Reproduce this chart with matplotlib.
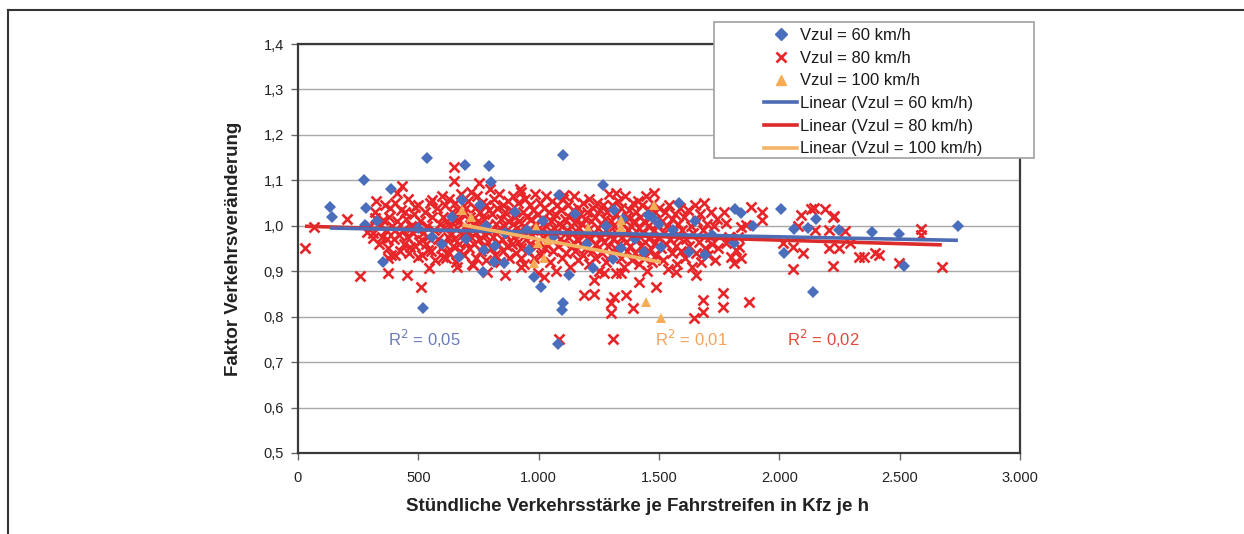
import matplotlib

matplotlib.use("Agg")
import matplotlib.pyplot as plt
from matplotlib.lines import Line2D
from matplotlib.patches import Rectangle
from matplotlib.ticker import FuncFormatter, MultipleLocator

plt.rcParams["font.family"] = ["Liberation Sans", "DejaVu Sans"]

# ---------------- data ----------------
blue_pts = [
    (133, 1.041), (142, 1.019), (275, 1.10), (283, 1.039), (279, 1.002), (329, 1.01),
    (354, 0.92), (388, 1.08), (538, 1.149), (521, 0.819), (558, 0.975), (692, 1.134),
    (792, 1.132), (804, 1.096), (683, 1.057), (758, 1.046), (771, 0.947), (667, 0.932),
    (813, 0.92), (854, 0.918), (767, 0.898), (979, 0.887), (1008, 0.865), (1125, 0.892),
    (1083, 1.068), (958, 0.947), (1100, 1.155), (1100, 0.83), (1096, 0.815), (1080, 0.74),
    (1267, 1.09), (1454, 1.024), (1475, 1.017), (1342, 0.95), (1308, 0.927), (1225, 0.907),
    (1438, 0.942), (1508, 0.953), (1625, 0.942), (1692, 0.936), (1583, 1.05), (1313, 1.035),
    (1817, 1.037), (1842, 1.028), (2063, 0.993), (2121, 0.995), (2154, 1.015), (2246, 0.99),
    (1813, 0.962), (2021, 0.94), (1892, 1.0), (2008, 1.037), (2138, 0.855), (2383, 0.986),
    (2496, 0.982), (2517, 0.912), (2742, 1.0),
    (640, 1.02), (700, 0.97), (780, 1.0), (860, 0.985), (900, 1.03), (950, 0.99),
    (1020, 1.01), (1060, 0.975), (1150, 1.025), (1200, 0.96), (1280, 1.0), (1350, 1.015),
    (1400, 0.97), (1500, 1.005), (1560, 0.99), (1650, 1.01), (1720, 0.98), (500, 0.995),
    (600, 0.96), (820, 0.955),
]

red_sparse = [
    (29, 0.951), (67, 0.998), (204, 1.015), (258, 0.889), (325, 1.055), (375, 0.896),
    (454, 0.892), (512, 0.866), (433, 1.088), (412, 1.072), (287, 0.986), (312, 0.973),
    (371, 0.971), (375, 0.929), (404, 0.936), (546, 0.907), (383, 1.039), (354, 1.013),
    (321, 1.017), (404, 0.991), (446, 1.030), (487, 1.041), (558, 1.057), (475, 0.998),
    (517, 0.969), (467, 0.954), (542, 0.947), (500, 0.932),
    (650, 1.129), (650, 1.099), (754, 1.094), (925, 1.075), (1104, 1.068), (862, 0.892),
    (787, 0.898), (996, 0.896), (1021, 0.888), (1083, 0.751), (604, 0.932), (662, 0.910),
    (729, 0.914), (925, 0.910), (925, 0.929),
    (1321, 1.072), (1479, 1.072), (1188, 0.848), (1229, 0.850), (1313, 0.843), (1363, 0.848),
    (1300, 0.830), (1392, 0.819), (1300, 0.808), (1417, 0.876), (1488, 0.866), (1654, 0.892),
    (1683, 0.837), (1683, 0.811), (1646, 0.797), (1308, 0.751), (1342, 0.896), (1229, 0.881),
    (1271, 0.896), (1571, 0.898), (1875, 0.832), (1767, 0.852), (1767, 0.821),
    (2058, 0.905), (2225, 0.912), (2208, 0.951), (2246, 0.951), (2292, 0.962), (2100, 0.94),
    (2058, 0.954), (2017, 0.962), (2079, 1.0), (2092, 1.024), (2133, 1.037), (2150, 0.991),
    (2188, 1.037), (2229, 1.022), (2208, 0.991), (2271, 0.989), (2333, 0.932), (1883, 1.041),
    (1929, 1.03), (1929, 1.013), (1771, 1.03), (1779, 1.006), (1842, 0.998), (1862, 1.002),
    (1829, 0.975), (1779, 0.962), (1821, 0.947), (1800, 0.932), (1842, 0.929), (1813, 0.918),
    (1792, 0.975), (1833, 0.954), (2350, 0.932), (2396, 0.94), (2413, 0.936), (2496, 0.918),
    (2588, 0.993), (2588, 0.98), (2675, 0.91), (2142, 1.04), (2225, 1.02),
]

red_dense = [
    (300, 1.00), (310, 0.985), (320, 1.03), (335, 0.96), (340, 1.00), (350, 0.975), (360, 1.045),
    (365, 0.99), (372, 0.95), (380, 1.02), (385, 0.935), (392, 1.00), (398, 0.97), (405, 1.05),
    (410, 1.01), (418, 0.98), (422, 0.945), (430, 1.035), (436, 0.99), (440, 0.96), (448, 1.015),
    (452, 0.975), (458, 1.06), (463, 0.94), (470, 1.00), (476, 0.985), (480, 1.025), (486, 0.955),
    (492, 0.995), (498, 1.045), (503, 0.965), (508, 1.01), (514, 0.935), (520, 0.985), (526, 1.03),
    (530, 0.96), (536, 1.00), (542, 0.975), (548, 1.05), (553, 0.945), (558, 1.02), (565, 0.99),
    (570, 0.925), (576, 1.04), (582, 0.97), (588, 1.005), (594, 0.95), (598, 1.065),
    (602, 1.02), (605, 0.96), (608, 0.995), (612, 1.045), (615, 0.93), (619, 1.01), (622, 0.975),
    (626, 1.06), (629, 0.94), (633, 1.00), (636, 0.985), (640, 1.03), (643, 0.955), (647, 1.015),
    (650, 0.97), (654, 1.05), (657, 0.92), (661, 0.995), (664, 1.035), (668, 0.96), (671, 1.01),
    (675, 0.945), (678, 1.07), (682, 0.98), (685, 1.025), (689, 0.935), (692, 1.0), (696, 0.965),
    (699, 1.04), (703, 0.99), (706, 1.055), (710, 0.95), (713, 1.02), (717, 0.975), (720, 1.075),
    (724, 0.915), (727, 1.005), (731, 0.96), (734, 1.04), (738, 0.985), (741, 0.93), (745, 1.065),
    (748, 1.01), (752, 0.97), (755, 1.03), (759, 0.945), (762, 0.995), (766, 1.05), (769, 0.955),
    (773, 1.015), (776, 0.98), (780, 1.045), (783, 0.925), (787, 1.0), (790, 0.965), (794, 1.035),
    (797, 1.08), (801, 0.99), (804, 0.95), (808, 1.025), (811, 0.975), (815, 1.06), (818, 0.935),
    (822, 1.005), (825, 1.04), (829, 0.96), (832, 0.99), (836, 1.07), (839, 0.92), (843, 1.015),
    (846, 0.97), (850, 1.045), (853, 0.945), (857, 1.0), (860, 1.03), (864, 0.98), (867, 0.955),
    (871, 1.055), (874, 1.01), (878, 0.93), (881, 0.985), (885, 1.035), (888, 0.96), (892, 1.005),
    (895, 1.065), (899, 0.975), (902, 1.02), (906, 0.94), (909, 0.995), (913, 1.05), (916, 0.965),
    (920, 1.01), (923, 1.08), (927, 0.95), (930, 0.985), (934, 1.03), (937, 0.915), (941, 1.0),
    (944, 1.06), (948, 0.97), (951, 1.02), (955, 0.945), (958, 0.99), (962, 1.045), (965, 0.96),
    (969, 1.015), (972, 0.98), (976, 1.035), (979, 0.93), (983, 1.005), (986, 1.07), (990, 0.955),
    (993, 0.99), (997, 1.025), (1001, 0.965), (1004, 1.05), (1008, 0.99), (1011, 0.935),
    (1015, 1.015), (1018, 0.975), (1022, 1.04), (1025, 0.95), (1029, 1.0), (1032, 1.065),
    (1036, 0.96), (1039, 0.985), (1043, 1.03), (1046, 0.92), (1050, 1.01), (1053, 0.97),
    (1057, 1.055), (1060, 0.945), (1064, 0.995), (1067, 1.025), (1071, 0.98), (1074, 0.9),
    (1078, 1.045), (1081, 0.955), (1085, 1.005), (1088, 0.97), (1092, 1.035), (1095, 0.93),
    (1099, 1.0), (1102, 1.06), (1106, 0.965), (1109, 1.015), (1113, 0.94), (1116, 0.99),
    (1120, 1.045), (1123, 0.975), (1127, 1.02), (1130, 0.91), (1134, 1.0), (1137, 0.955),
    (1141, 1.035), (1144, 0.985), (1148, 1.065), (1151, 0.945), (1155, 1.01), (1158, 0.97),
    (1162, 1.04), (1165, 0.925), (1169, 0.995), (1172, 1.025), (1176, 0.96), (1179, 1.005),
    (1183, 0.935), (1186, 1.05), (1190, 0.98), (1193, 1.015), (1197, 0.95), (1201, 1.03),
    (1204, 0.99), (1208, 0.915), (1211, 1.06), (1215, 0.97), (1218, 1.01), (1222, 0.945),
    (1225, 1.04), (1229, 0.985), (1232, 0.93), (1236, 1.02), (1239, 0.96), (1243, 1.05),
    (1246, 0.995), (1250, 0.9), (1253, 1.035), (1257, 0.975), (1260, 1.005), (1264, 0.94),
    (1267, 1.045), (1271, 0.965), (1274, 1.015), (1278, 0.92), (1281, 0.99), (1285, 1.03),
    (1288, 0.955), (1292, 1.07), (1295, 0.98), (1299, 1.01), (1302, 0.935), (1306, 1.045),
    (1309, 0.97), (1313, 1.0), (1316, 0.95), (1320, 1.025), (1323, 0.895), (1327, 0.985),
    (1330, 1.055), (1334, 0.96), (1337, 1.015), (1341, 0.93), (1344, 1.04), (1348, 0.975),
    (1351, 1.005), (1355, 0.91), (1358, 1.065), (1362, 0.965), (1365, 1.02), (1369, 0.945),
    (1372, 0.99), (1376, 1.035), (1379, 0.955), (1383, 1.0), (1386, 0.925), (1390, 1.05),
    (1393, 0.98), (1397, 1.01), (1401, 0.94), (1404, 1.03), (1408, 0.97), (1411, 1.055),
    (1415, 0.915), (1418, 0.995), (1422, 1.02), (1425, 0.955), (1429, 1.045), (1432, 0.985),
    (1436, 0.93), (1439, 1.01), (1443, 0.965), (1446, 1.065), (1450, 0.9), (1453, 1.0),
    (1457, 1.035), (1460, 0.945), (1464, 0.975), (1467, 1.02), (1471, 0.92), (1474, 1.05),
    (1478, 0.99), (1481, 0.96), (1485, 1.03), (1488, 0.935), (1492, 1.005), (1495, 0.975),
    (1502, 1.04), (1507, 0.95), (1511, 1.01), (1516, 0.925), (1520, 0.985), (1525, 1.03),
    (1529, 0.96), (1534, 1.0), (1538, 0.905), (1543, 1.045), (1547, 0.97), (1552, 1.015),
    (1556, 0.94), (1561, 0.99), (1565, 1.025), (1570, 0.955), (1574, 0.915), (1579, 1.005),
    (1583, 0.975), (1588, 1.04), (1592, 0.945), (1597, 0.99), (1603, 1.02), (1609, 0.93),
    (1614, 0.97), (1620, 1.035), (1626, 0.955), (1631, 1.0), (1637, 0.91), (1642, 0.985),
    (1648, 1.045), (1654, 0.94), (1659, 1.01), (1665, 0.965), (1671, 1.025), (1676, 0.92),
    (1682, 0.99), (1688, 1.05), (1693, 0.95), (1699, 1.005), (1705, 0.935), (1711, 0.975),
    (1716, 1.03), (1722, 0.96), (1728, 1.0), (1733, 0.925), (1739, 1.015), (1745, 0.95),
]

orange_x = [683, 717, 988, 979, 1021, 1038, 996, 1204, 1342, 1342, 1479, 1446, 1508]
orange_y = [1.035, 1.02, 0.997, 0.918, 0.929, 0.969, 0.962, 0.995, 1.013, 0.998, 1.046, 0.832, 0.797]

# trend lines as shown (end points)
trend_x_60, trend_y_60 = [133, 2742], [0.995, 0.968]
trend_x_80, trend_y_80 = [29, 2675], [0.999, 0.958]
trend_x_100, trend_y_100 = [683, 1508], [1.002, 0.92]

r2_labels = ["R$^2$ = 0,05", "R$^2$ = 0,01", "R$^2$ = 0,02"]
r2_x = [525, 1633, 2183]
r2_y = [0.75, 0.75, 0.75]

labels = ["Vzul = 60 km/h", "Vzul = 80 km/h", "Vzul = 100 km/h",
          "Linear (Vzul = 60 km/h)", "Linear (Vzul = 80 km/h)", "Linear (Vzul = 100 km/h)"]

C_BLUE = "#4a6ebb"
C_RED = "#e8262a"
C_ORANGE = "#f5ac55"
C_BLUE_LINE = "#4d6cb4"
C_RED_LINE = "#dd2a2a"
C_ORANGE_LINE = "#f4b466"

fig = plt.figure(figsize=(12.44, 5.34), dpi=100)
ax = fig.add_axes([298 / 1244, 1 - 453 / 534, (1020 - 298) / 1244, (453 - 44) / 534])

red_x = [p[0] for p in red_sparse] + [p[0] for p in red_dense]
red_y = [p[1] for p in red_sparse] + [p[1] for p in red_dense]
blue_x = [p[0] for p in blue_pts]
blue_y = [p[1] for p in blue_pts]

ax.plot(red_x, red_y, ls="none", marker="x", ms=7.2, mew=1.9, color=C_RED, zorder=3)
ax.plot(blue_x, blue_y, ls="none", marker="D", ms=5.8, mew=0, color=C_BLUE, zorder=4)
ax.plot(orange_x, orange_y, ls="none", marker="^", ms=7.5, mew=0, color=C_ORANGE, zorder=5)

ax.plot(trend_x_80, trend_y_80, color=C_RED_LINE, lw=2.6, zorder=6, solid_capstyle="butt")
ax.plot(trend_x_60, trend_y_60, color=C_BLUE_LINE, lw=2.6, zorder=6, solid_capstyle="butt")
ax.plot(trend_x_100, trend_y_100, color=C_ORANGE_LINE, lw=2.6, zorder=7, solid_capstyle="butt")

for t, x, y, c in zip(r2_labels, r2_x, r2_y, ["#6a7bbd", "#f2a35a", "#e04a3a"]):
    ax.text(x, y, t, color=c, fontsize=12, ha="center", va="center", zorder=8)

ax.set_xlim(0, 3000)
ax.set_ylim(0.5, 1.4)
ax.xaxis.set_major_locator(MultipleLocator(500))
ax.yaxis.set_major_locator(MultipleLocator(0.1))
ax.xaxis.set_major_formatter(FuncFormatter(lambda v, p: f"{int(round(v)):,}".replace(",", ".")))
ax.yaxis.set_major_formatter(FuncFormatter(lambda v, p: f"{v:.1f}".replace(".", ",")))
ax.grid(axis="y", color="#a8a8a8", lw=1.0)
ax.set_axisbelow(True)
for s in ax.spines.values():
    s.set_color("#3a3a3a")
    s.set_linewidth(1.6)
ax.tick_params(axis="both", direction="out", length=5, width=1, color="#666666",
               labelsize=10.5, labelcolor="#222222")
ax.tick_params(axis="x", pad=8)
ax.tick_params(axis="y", pad=5)

ax.set_ylabel("Faktor Verkehrsveränderung", fontsize=13.5, fontweight="bold", color="#222222")
ax.yaxis.set_label_coords(-0.078, 0.5)
ax.set_xlabel("Stündliche Verkehrsstärke je Fahrstreifen in Kfz je h", fontsize=13.5,
              fontweight="bold", color="#222222")
ax.xaxis.set_label_coords(0.47, -0.11)

# legend box (drawn by hand, legend entries inside)
fig.add_artist(Rectangle((714 / 1244, 1 - 158 / 534), 320 / 1244, 136 / 534,
                         transform=fig.transFigure, facecolor="white",
                         edgecolor="#a0a0a0", lw=1.2, zorder=4))
handles = [
    Line2D([], [], ls="none", marker="D", ms=5.8, color=C_BLUE),
    Line2D([], [], ls="none", marker="x", ms=7.2, mew=1.9, color=C_RED),
    Line2D([], [], ls="none", marker="^", ms=7.5, color=C_ORANGE),
    Line2D([], [], color=C_BLUE_LINE, lw=2.6),
    Line2D([], [], color=C_RED_LINE, lw=2.6),
    Line2D([], [], color=C_ORANGE_LINE, lw=2.6),
]
leg = fig.legend(handles, labels, loc="upper left", bbox_to_anchor=(764 / 1244, 1 - 28 / 534),
                 bbox_transform=fig.transFigure, frameon=False, fontsize=12,
                 handlelength=2.0, handletextpad=0.15, labelspacing=0.46, borderpad=0,
                 borderaxespad=0, numpoints=1)
for txt in leg.get_texts():
    txt.set_color("#1a1a1a")
leg.set_zorder(5)

# outer frame lines of the page
fig.add_artist(Line2D([8 / 1244, 1.0], [1 - 10 / 534, 1 - 10 / 534], transform=fig.transFigure,
                      color="#333333", lw=1.5))
fig.add_artist(Line2D([8 / 1244, 8 / 1244], [0, 1 - 10 / 534], transform=fig.transFigure,
                      color="#333333", lw=1.5))

fig.savefig("out.png", dpi=100)
